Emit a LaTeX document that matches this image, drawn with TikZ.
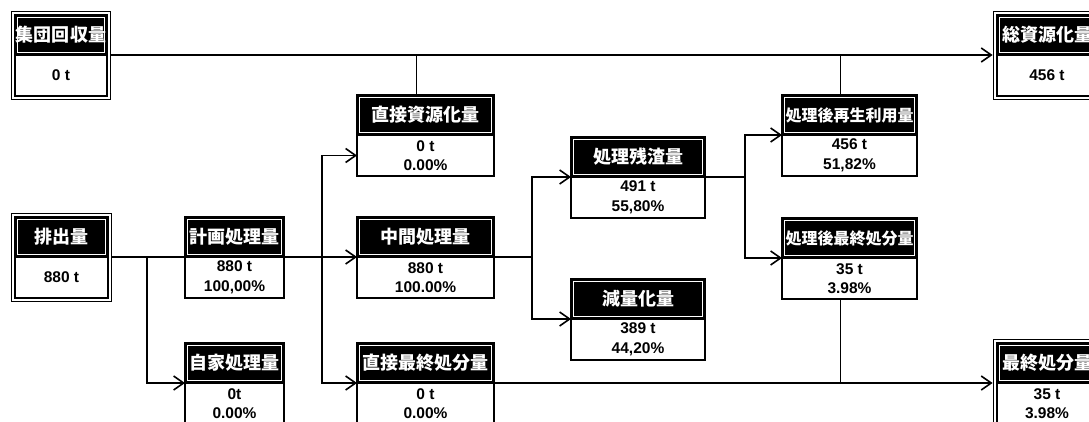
\documentclass[tikz,border=0pt]{standalone}
\usepackage{fontspec}
\setmainfont{Liberation Sans}
\newfontfamily\jpfont{Noto Sans CJK JP}
\usetikzlibrary{positioning,fit,arrows.meta}

\begin{document}
\begin{tikzpicture}[
  x=1pt, y=-1pt,
  hdr/.style={
    draw, line width=1.6pt, fill=black, text=white,
    anchor=north west, minimum height=40pt,
    inner sep=0pt, outer sep=0pt,
    path picture={\draw[white, line width=0.8pt]
      ([xshift=2.5pt,yshift=-2.5pt]path picture bounding box.north west) rectangle
      ([xshift=-2.5pt,yshift=2.5pt]path picture bounding box.south east);}
  },
  val/.style={
    draw, line width=1.6pt, fill=white,
    minimum height=41pt, inner sep=0pt, outer sep=0pt,
    font=\bfseries\fontsize{15.5}{19.5}\selectfont, align=center
  },
  frame/.style={draw, line width=1.8pt, inner sep=3.5pt},
  line/.style={line width=1.6pt},
  arr/.style={line, -{Straight Barb[length=10pt,width=14pt,line width=1.6pt]}}
]
\useasboundingbox (0,0) rectangle (1089,422);
\clip (0,0) rectangle (1089,422);
\fill[white] (0,0) rectangle (1089,422);
\def\dx{9pt} % the risers sit a little left of centre

% --- boxes: name / x / y / width / header size / header / value ---
\foreach \nm/\x/\y/\w/\fs/\hd/\val in {
  shudan/15/15/92/18/集団回収量/{0 t},
  haishutsu/15/217/93/18/排出量/{880 t},
  keikaku/185/217/99/18/計画処理量/{880 t\\100,00\%},
  jika/185/343/99/18/自家処理量/{0t\\0.00\%},
  chokushi/357/95/137/18/直接資源化量/{0 t\\0.00\%},
  chukan/357/217/137/18/中間処理量/{880 t\\100.00\%},
  chokusai/357/343/137/18/直接最終処分量/{0 t\\0.00\%},
  zansa/571/137/134/18/処理残渣量/{491 t\\55,80\%},
  genryo/571/279/134/18/減量化量/{389 t\\44,20\%},
  saisei/782/95/135/16/処理後再生利用量/{456 t\\51,82\%},
  shosai/782/218/135/16/処理後最終処分量/{35 t\\3.98\%},
  soshigen/997/15/100/18/総資源化量/{456 t},
  saishu/997/343/100/18/最終処分量/{35 t\\3.98\%}} {
  \node[hdr, minimum width=\w pt, font=\jpfont\bfseries\fontsize{\fs}{\fs}\selectfont] (\nm) at (\x,\y) {\hd};
  \node[val, minimum width=\w pt, below=0pt of \nm] (\nm-v) {\val};
}

% --- outer frames of the totals ---
\foreach \nm in {shudan,haishutsu,soshigen,saishu}
  \node[frame, fit=(\nm)(\nm-v)] (\nm-f) {};

% --- branch points ---
\coordinate (b1) at (147,257);
\coordinate (b2) at (322,257);
\coordinate (b3) at (532,257);
\coordinate (b4) at (745,177);

% --- top line: resources ---
\draw[arr] (shudan-f.east |- shudan.south) -- (soshigen-f.west |- soshigen.south);
\draw[line] ([xshift=-\dx]chokushi.north) -- ([xshift=-\dx]chokushi.north |- shudan.south);
\draw[line] ([xshift=-\dx]saisei.north) -- ([xshift=-\dx]saisei.north |- shudan.south);

% --- main flow ---
\draw[line] (haishutsu-f.east |- haishutsu.south) -- (keikaku.south west);
\draw[arr] (b1) |- (jika.south west);
\draw[arr] (keikaku.south east) -- (chukan.south west);
\draw[arr] (b2) |- (chokushi-v.west);
\draw[arr] (b2) |- (chokusai.south west);

% --- intermediate treatment ---
\draw[line] (chukan.south east) -- (b3);
\draw[arr] (b3) |- (zansa.south west);
\draw[arr] (b3) |- (genryo.south west);
\draw[line] (zansa.south east) -- (b4);
\draw[arr] (b4) |- (saisei.south west);
\draw[arr] (b4) |- (shosai.south west);

% --- bottom line: final disposal ---
\draw[arr] (chokusai.south east) -- (saishu-f.west |- saishu.south);
\draw[line] ([xshift=-\dx]shosai-v.south) -- ([xshift=-\dx]shosai-v.south |- chokusai.south);

\end{tikzpicture}
\end{document}
